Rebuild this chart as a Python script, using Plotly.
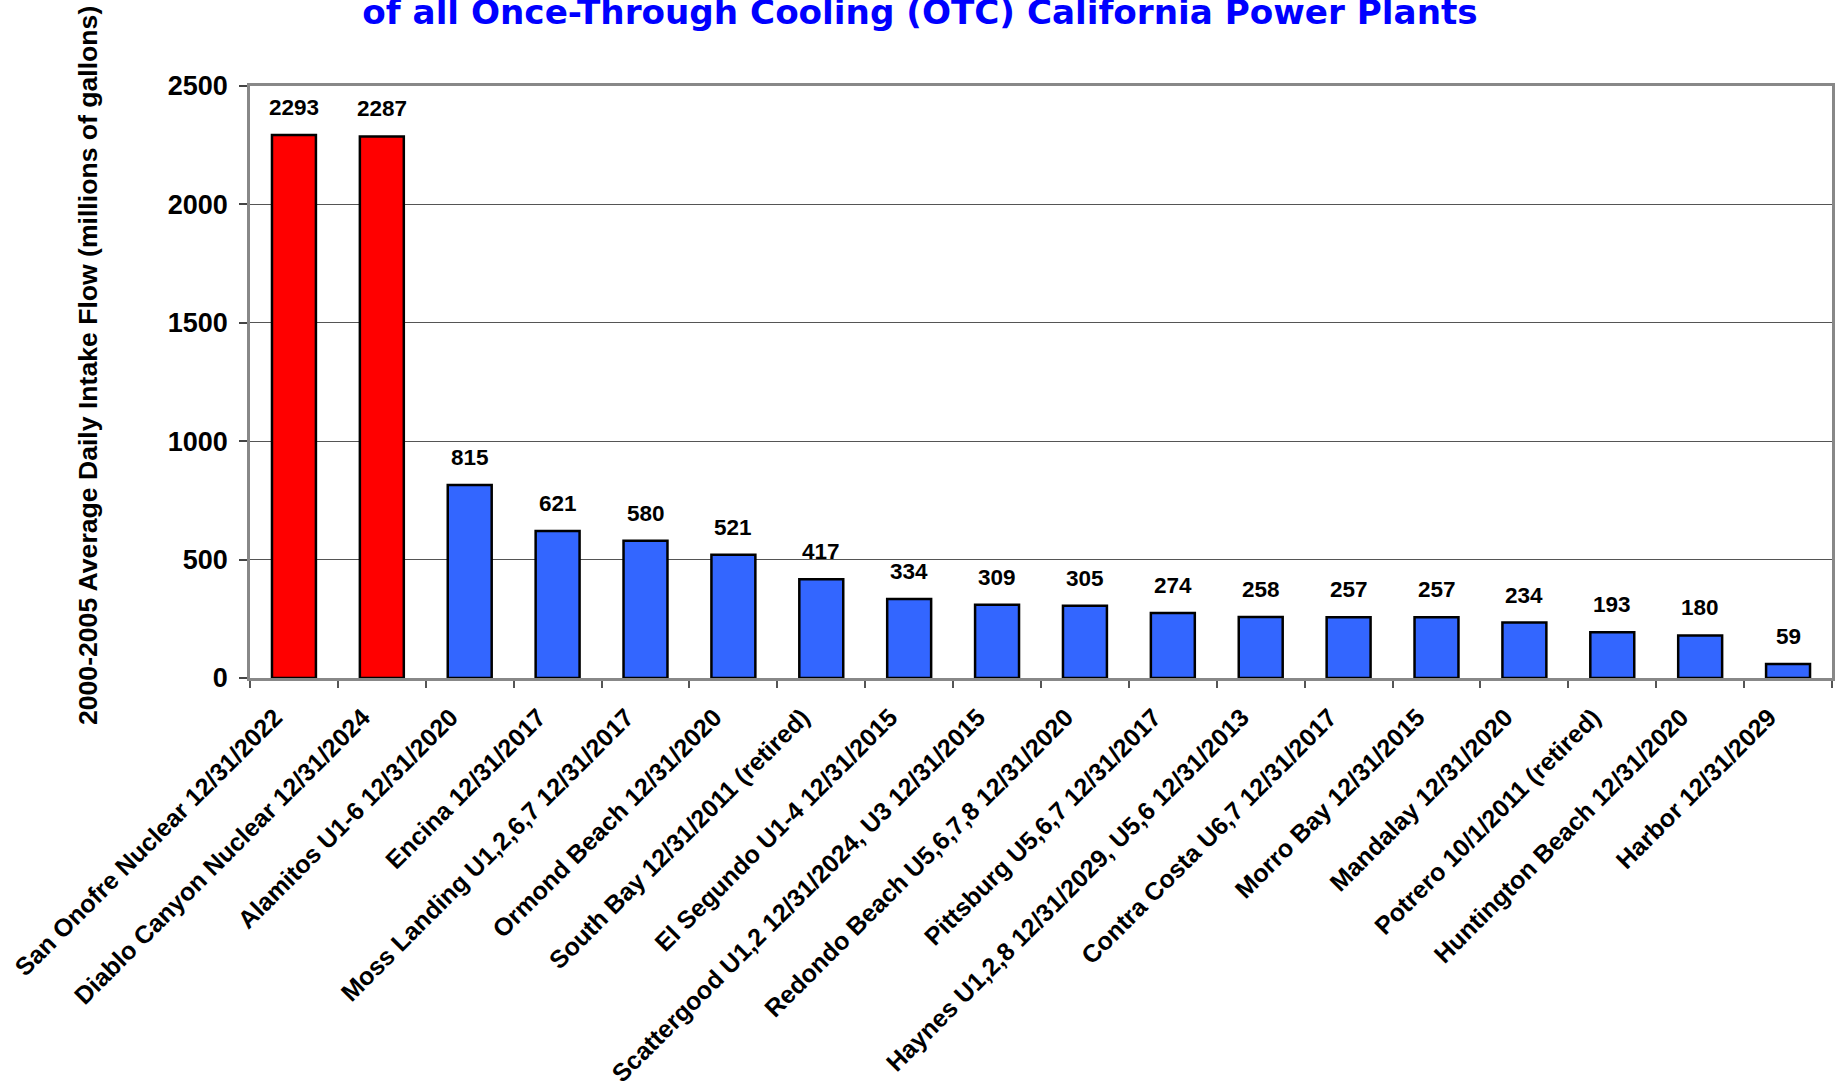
import plotly.graph_objects as go

categories = [
    "San Onofre Nuclear 12/31/2022",
    "Diablo Canyon Nuclear 12/31/2024",
    "Alamitos U1-6 12/31/2020",
    "Encina 12/31/2017",
    "Moss Landing U1,2,6,7 12/31/2017",
    "Ormond Beach 12/31/2020",
    "South Bay 12/31/2011 (retired)",
    "El Segundo U1-4 12/31/2015",
    "Scattergood U1,2 12/31/2024, U3 12/31/2015",
    "Redondo Beach U5,6,7,8 12/31/2020",
    "Pittsburg U5,6,7 12/31/2017",
    "Haynes U1,2,8 12/31/2029, U5,6 12/31/2013",
    "Contra Costa U6,7 12/31/2017",
    "Morro Bay 12/31/2015",
    "Mandalay 12/31/2020",
    "Potrero 10/1/2011 (retired)",
    "Huntington Beach 12/31/2020",
    "Harbor 12/31/2029",
]
values = [2293, 2287, 815, 621, 580, 521, 417, 334, 309, 305, 274, 258, 257, 257, 234, 193, 180, 59]
nuclear = [True, True] + [False] * 16

title_text = "of all Once-Through Cooling (OTC) California Power Plants"
y_title = "2000-2005 Average Daily Intake Flow (millions of gallons)"

RED = "#FF0000"
BLUE = "#3366FF"
colors = [RED if n else BLUE for n in nuclear]

ARIAL = "Liberation Sans"
WIDE = "DejaVu Sans"

fig = go.Figure()
fig.add_trace(go.Bar(
    x=categories, y=values,
    marker=dict(color=colors, line=dict(color="black", width=2.5)),
    hoverinfo="x+y",
))

for c, v in zip(categories, values):
    fig.add_annotation(
        x=c, y=v, xref="x", yref="y", text=str(v), showarrow=False,
        yanchor="bottom", yshift=13,
        font=dict(family=ARIAL, size=22.5, color="black", weight="bold"),
    )

W, H = 1845, 1089
L, R, T, B = 250, 1832, 86, 678

fig.add_annotation(
    xref="paper", yref="paper",
    x=(88 - L) / (R - L), y=(B - 366) / (B - T),
    xanchor="center", yanchor="middle",
    text=y_title, textangle=-90, showarrow=False,
    font=dict(family=ARIAL, size=26.6, color="black", weight="bold"),
)

fig.update_layout(
    width=W, height=H,
    margin=dict(l=L, r=W - R, t=T, b=H - B, pad=0, autoexpand=False),
    paper_bgcolor="white", plot_bgcolor="white",
    bargap=0.5,
    showlegend=False,
    title=dict(
        text=title_text, x=920 / W, xanchor="center", xref="container",
        y=1 - 12.5 / H, yanchor="middle", yref="container",
        font=dict(family=WIDE, size=34.2, color="#0000FF", weight="bold"),
    ),
    xaxis=dict(
        type="category",
        automargin=False,
        tickangle=-45,
        tickson="boundaries",
        ticks="outside", ticklen=7, tickwidth=1.5, tickcolor="#555",
        showline=True, linecolor="#888", linewidth=2.5, mirror=True,
        showgrid=False,
        ticklabelshift=-19, ticklabelstandoff=12,
        tickfont=dict(family=ARIAL, size=25, color="black", weight="bold"),
    ),
    yaxis=dict(
        automargin=False,
        range=[0, 2500], dtick=500, tick0=0,
        ticks="outside", ticklen=8, tickwidth=1.5, tickcolor="#444",
        showline=True, linecolor="#888", linewidth=2.5, mirror=True,
        showgrid=True, gridcolor="#555", gridwidth=1,
        zeroline=False,
        ticklabelstandoff=6,
        tickfont=dict(family=ARIAL, size=27, color="black", weight="bold"),
    ),
)

fig.write_html("out.html", config={"displayModeBar": False},
               post_script="document.body.style.margin='0';")
